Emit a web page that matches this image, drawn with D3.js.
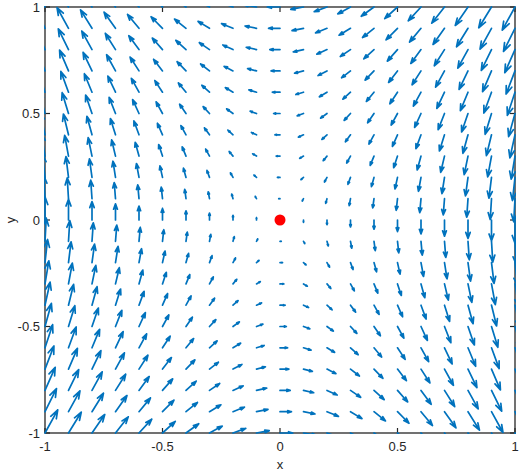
<!DOCTYPE html>
<html>
<head>
<meta charset="utf-8">
<script src="https://cdn.jsdelivr.net/npm/d3@7"></script>
<style>
  html, body { margin: 0; padding: 0; background: #fff; }
  svg { display: block; }
  text { font-family: "Liberation Sans", Arial, Helvetica, sans-serif; fill: #262626; }
</style>
</head>
<body>
<svg id="chart" width="520" height="472"></svg>
<script>
// Grid of arrow tails
const xGrid = [-1, -0.9, -0.8, -0.7, -0.6, -0.5, -0.4, -0.3, -0.2, -0.1, 0, 0.1, 0.2, 0.3, 0.4, 0.5, 0.6, 0.7, 0.8, 0.9, 1];
const yGrid = [-1, -0.9, -0.8, -0.7, -0.6, -0.5, -0.4, -0.3, -0.2, -0.1, 0, 0.1, 0.2, 0.3, 0.4, 0.5, 0.6, 0.7, 0.8, 0.9, 1];
// Horizontal component, read per row (depends on y only)
const uAtY = [1, 0.9, 0.8, 0.7, 0.6, 0.5, 0.4, 0.3, 0.2, 0.1, 0, -0.1, -0.2, -0.3, -0.4, -0.5, -0.6, -0.7, -0.8, -0.9, -1];
// Vertical component, read per column (depends on x only)
const vAtX = [2, 1.8, 1.6, 1.4, 1.2, 1, 0.8, 0.6, 0.4, 0.2, 0, -0.2, -0.4, -0.6, -0.8, -1, -1.2, -1.4, -1.6, -1.8, -2];
// Equilibrium point
const fixedPoint = [0, 0];
// Axis ticks
const xTicks = [-1, -0.5, 0, 0.5, 1];
const xTickLabels = ["-1", "-0.5", "0", "0.5", "1"];
const yTicks = [-1, -0.5, 0, 0.5, 1];
const yTickLabels = ["-1", "-0.5", "0", "0.5", "1"];

const L = 45, R = 515, T = 7, B = 433;
const svg = d3.select("#chart");
const x = d3.scaleLinear().domain([-1, 1]).range([L, R]);
const y = d3.scaleLinear().domain([-1, 1]).range([B, T]);

svg.append("defs").append("clipPath").attr("id", "clip")
  .append("rect").attr("x", L - 1).attr("y", T - 1).attr("width", R - L + 2).attr("height", B - T + 2);

// Axes box and ticks
const axisColor = "#262626";
const tickLen = 5;
const gAx = svg.append("g");
gAx.append("rect").attr("x", L).attr("y", T).attr("width", R - L).attr("height", B - T)
  .attr("fill", "none").attr("stroke", axisColor).attr("stroke-width", 1.3);
xTicks.forEach((t, i) => {
  const px = x(t);
  gAx.append("line").attr("x1", px).attr("x2", px).attr("y1", B).attr("y2", B - tickLen).attr("stroke", axisColor).attr("stroke-width", 1.2);
  gAx.append("line").attr("x1", px).attr("x2", px).attr("y1", T).attr("y2", T + tickLen).attr("stroke", axisColor).attr("stroke-width", 1.2);
  gAx.append("text").attr("x", px).attr("y", 451).attr("text-anchor", "middle").attr("font-size", 13).text(xTickLabels[i]);
});
yTicks.forEach((t, i) => {
  const py = y(t);
  gAx.append("line").attr("x1", L).attr("x2", L + tickLen).attr("y1", py).attr("y2", py).attr("stroke", axisColor).attr("stroke-width", 1.2);
  gAx.append("line").attr("x1", R).attr("x2", R - tickLen).attr("y1", py).attr("y2", py).attr("stroke", axisColor).attr("stroke-width", 1.2);
  gAx.append("text").attr("x", 40).attr("y", py + 4.5).attr("text-anchor", "end").attr("font-size", 13).text(yTickLabels[i]);
});
gAx.append("text").attr("x", x(0)).attr("y", 469).attr("text-anchor", "middle").attr("font-size", 13).text("x");
gAx.append("text").attr("transform", `translate(15,${y(0)}) rotate(-90)`).attr("text-anchor", "middle").attr("font-size", 13).text("y");

// Build vectors
const vecs = [];
yGrid.forEach((yy, j) => {
  xGrid.forEach((xx, i) => {
    vecs.push({ x: xx, y: yy, u: uAtY[j], v: vAtX[i] });
  });
});
// Autoscale (quiver-style): longest arrow = 0.9 of grid spacing
const n = Math.sqrt(vecs.length);
const delx = (d3.max(xGrid) - d3.min(xGrid)) / n;
const dely = (d3.max(yGrid) - d3.min(yGrid)) / n;
const maxLen = d3.max(vecs, d => Math.sqrt((d.u * d.u + d.v * d.v) / (delx * delx + dely * dely)));
const s = 0.9 / maxLen;
const alpha = 0.33, beta = 0.33;

const gArrows = svg.append("g").attr("clip-path", "url(#clip)")
  .attr("stroke", "#0072BD").attr("stroke-width", 1.7).attr("fill", "none")
  .attr("stroke-linecap", "round").attr("stroke-linejoin", "round");

gArrows.selectAll("path.arrow").data(vecs).join("path").attr("class", "arrow")
  .attr("d", d => {
    const u = d.u * s, v = d.v * s;
    const ex = d.x + u, ey = d.y + v;
    const h1x = ex - alpha * (u + beta * v), h1y = ey - alpha * (v - beta * u);
    const h2x = ex - alpha * (u - beta * v), h2y = ey - alpha * (v + beta * u);
    const p = d3.path();
    p.moveTo(x(d.x), y(d.y));
    p.lineTo(x(ex), y(ey));
    if (u !== 0 || v !== 0) {
      p.moveTo(x(h1x), y(h1y));
      p.lineTo(x(ex), y(ey));
      p.lineTo(x(h2x), y(h2y));
    }
    return p.toString();
  });

// Equilibrium point
svg.append("circle").attr("cx", x(fixedPoint[0])).attr("cy", y(fixedPoint[1])).attr("r", 5.5).attr("fill", "#ff0000");
</script>
</body>
</html>
